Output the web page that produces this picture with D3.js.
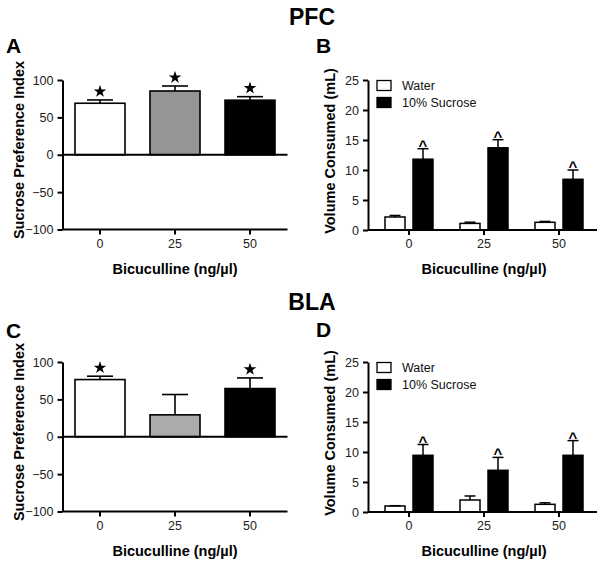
<!DOCTYPE html>
<html><head><meta charset="utf-8">
<script src="https://cdn.jsdelivr.net/npm/d3@7"></script>
<style>
html,body{margin:0;padding:0;background:#fff;}
svg{display:block;font-family:"Liberation Sans",Arial,sans-serif;}
</style></head>
<body><svg id="chart" width="604" height="566"></svg>
<script>
// ---- data ----
const doses = ["0", "25", "50"];
const spiTicks = [-100, -50, 0, 50, 100];
const volTicks = [0, 5, 10, 15, 20, 25];
const seriesNames = ["Water", "10% Sucrose"];

const pfcSPI = [68.9, 85.3, 73.0];
const pfcSPIerr = [4.4, 6.7, 4.7];
const pfcSPIsig = [true, true, true];

const blaSPI = [76.5, 29.3, 64.5];
const blaSPIerr = [4.5, 27.2, 14.2];
const blaSPIsig = [true, false, true];

const pfcWater = [2.17, 1.1, 1.28];
const pfcWaterErr = [0.25, 0.2, 0.15];
const pfcSucrose = [11.8, 13.7, 8.45];
const pfcSucroseErr = [1.75, 1.35, 1.55];

const blaWater = [1.0, 2.0, 1.28];
const blaWaterErr = [0.05, 0.67, 0.25];
const blaSucrose = [9.45, 6.95, 9.45];
const blaSucroseErr = [1.8, 2.15, 2.45];
const volSig = [true, true, true];

// ---- drawing ----
const svg = d3.select("#chart");
svg.append("rect").attr("width", 604).attr("height", 566).attr("fill", "#fff");

function styleAxis(g) {
  g.select(".domain").attr("stroke", "#000").attr("stroke-width", 2);
  g.selectAll(".tick line").attr("stroke", "#000").attr("stroke-width", 2);
  g.selectAll(".tick text").attr("fill", "#222").style("font-size", "12.5px")
    .style("font-family", '"Liberation Sans",Arial,sans-serif');
}

function drawSPI(dy, vals, errs, sig, midGray) {
  const g = svg.append("g").attr("transform", `translate(0,${dy})`);
  const y = d3.scaleLinear().domain([-100, 100]).range([229.5, 80]);
  const x = d3.scaleBand().domain(doses).range([62.5, 287.5]).paddingInner(1/3).paddingOuter(1/6);
  const fills = ["#fff", midGray, "#000"];
  // bars
  g.selectAll("rect.bar").data(doses).join("rect")
    .attr("x", d => x(d)).attr("width", x.bandwidth())
    .attr("y", (d, i) => y(vals[i])).attr("height", (d, i) => y(0) - y(vals[i]))
    .attr("fill", (d, i) => fills[i]).attr("stroke", "#000").attr("stroke-width", 1.6);
  // error bars
  doses.forEach((d, i) => {
    const cx = x(d) + x.bandwidth() / 2;
    const top = y(vals[i] + errs[i]);
    g.append("line").attr("x1", cx).attr("x2", cx).attr("y1", y(vals[i])).attr("y2", top)
      .attr("stroke", "#000").attr("stroke-width", 1.6);
    g.append("line").attr("x1", cx - 13).attr("x2", cx + 13).attr("y1", top).attr("y2", top)
      .attr("stroke", "#000").attr("stroke-width", 1.6);
    if (sig[i]) {
      g.append("path").attr("d", d3.symbol().type(d3.symbolStar).size(50)())
        .attr("transform", `translate(${cx},${top - 8.5})`).attr("fill", "#000");
    }
  });
  // zero line
  g.append("line").attr("x1", 62.5).attr("x2", 287.5).attr("y1", y(0)).attr("y2", y(0))
    .attr("stroke", "#000").attr("stroke-width", 2);
  // y axis
  const ya = g.append("g").attr("transform", "translate(62.5,0)")
    .call(d3.axisLeft(y).tickValues(spiTicks).tickSize(5).tickSizeOuter(0).tickPadding(4));
  styleAxis(ya);
  // x axis at bottom
  const xa = g.append("g").attr("transform", `translate(0,${y(-100)})`)
    .call(d3.axisBottom(x).tickSize(5).tickSizeOuter(0).tickPadding(4.5));
  xa.select(".domain").attr("d", "M62.5,0H287.5");
  styleAxis(xa);
  // titles
  g.append("text").attr("transform", "translate(24,150) rotate(-90)")
    .attr("text-anchor", "middle").style("font-weight", "bold").style("font-size", "14.5px")
    .text("Sucrose Preference Index");
  g.append("text").attr("x", 175).attr("y", 274).attr("text-anchor", "middle")
    .style("font-weight", "bold").style("font-size", "14.5px").text("Bicuculline (ng/µl)");
}

function drawVol(dy, water, waterErr, sucrose, sucroseErr, sig) {
  const g = svg.append("g").attr("transform", `translate(0,${dy})`);
  const y = d3.scaleLinear().domain([0, 25]).range([230, 80]);
  const x = d3.scaleBand().domain(doses).range([371.5, 596.5]).paddingInner(0.36).paddingOuter(0.18);
  const xs = d3.scaleBand().domain(seriesNames).range([0, x.bandwidth()]).paddingInner(8 / 28);
  const series = [
    { name: seriesNames[0], vals: water, errs: waterErr, fill: "#fff" },
    { name: seriesNames[1], vals: sucrose, errs: sucroseErr, fill: "#000" }
  ];
  series.forEach((s, si) => {
    doses.forEach((d, i) => {
      const bx = x(d) + xs(s.name);
      const cx = bx + xs.bandwidth() / 2;
      g.append("rect").attr("x", bx).attr("width", xs.bandwidth())
        .attr("y", y(s.vals[i])).attr("height", y(0) - y(s.vals[i]))
        .attr("fill", s.fill).attr("stroke", "#000").attr("stroke-width", 1.5);
      const top = y(s.vals[i] + s.errs[i]);
      g.append("line").attr("x1", cx).attr("x2", cx).attr("y1", y(s.vals[i])).attr("y2", top)
        .attr("stroke", "#000").attr("stroke-width", 1.5);
      g.append("line").attr("x1", cx - 5.5).attr("x2", cx + 5.5).attr("y1", top).attr("y2", top)
        .attr("stroke", "#000").attr("stroke-width", 1.5);
      if (si === 1 && sig[i]) {
        g.append("text").attr("x", cx).attr("y", top + 2).attr("text-anchor", "middle")
          .style("font-size", "15px").style("font-weight", "bold").text("^");
      }
    });
  });
  const ya = g.append("g").attr("transform", "translate(368,0)")
    .call(d3.axisLeft(y).tickValues(volTicks).tickSize(5).tickSizeOuter(0).tickPadding(4));
  styleAxis(ya);
  const xa = g.append("g").attr("transform", `translate(0,${y(0)})`)
    .call(d3.axisBottom(x).tickSize(5).tickSizeOuter(0).tickPadding(4.5));
  xa.select(".domain").attr("d", "M368,0H597");
  styleAxis(xa);
  // legend
  series.forEach((s, si) => {
    g.append("rect").attr("x", 377).attr("y", 80.5 + si * 17).attr("width", 14).attr("height", 10)
      .attr("fill", s.fill).attr("stroke", "#000").attr("stroke-width", 1.3);
    g.append("text").attr("x", 402).attr("y", 89.5 + si * 17.3).style("font-size", "12.5px")
      .attr("fill", "#111").text(s.name);
  });
  g.append("text").attr("transform", "translate(335,151) rotate(-90)")
    .attr("text-anchor", "middle").style("font-weight", "bold").style("font-size", "14.5px")
    .text("Volume Consumed (mL)");
  g.append("text").attr("x", 484).attr("y", 274).attr("text-anchor", "middle")
    .style("font-weight", "bold").style("font-size", "14.5px").text("Bicuculline (ng/µl)");
}

drawSPI(0, pfcSPI, pfcSPIerr, pfcSPIsig, "#959595");
drawVol(0, pfcWater, pfcWaterErr, pfcSucrose, pfcSucroseErr, volSig);
drawSPI(282, blaSPI, blaSPIerr, blaSPIsig, "#ababab");
drawVol(282, blaWater, blaWaterErr, blaSucrose, blaSucroseErr, volSig);

// headings and panel letters
const heads = [
  { t: "PFC", x: 312, y: 25 }, { t: "BLA", x: 312, y: 310 }
];
svg.selectAll("text.head").data(heads).join("text").attr("class", "head")
  .attr("x", d => d.x).attr("y", d => d.y).attr("text-anchor", "middle")
  .style("font-weight", "bold").style("font-size", "23px").text(d => d.t);
const letters = [
  { t: "A", x: 6, y: 53 }, { t: "B", x: 316, y: 53 },
  { t: "C", x: 6, y: 338 }, { t: "D", x: 316, y: 337 }
];
svg.selectAll("text.letter").data(letters).join("text").attr("class", "letter")
  .attr("x", d => d.x).attr("y", d => d.y)
  .style("font-weight", "bold").style("font-size", "21px").text(d => d.t);
</script>
</body></html>
